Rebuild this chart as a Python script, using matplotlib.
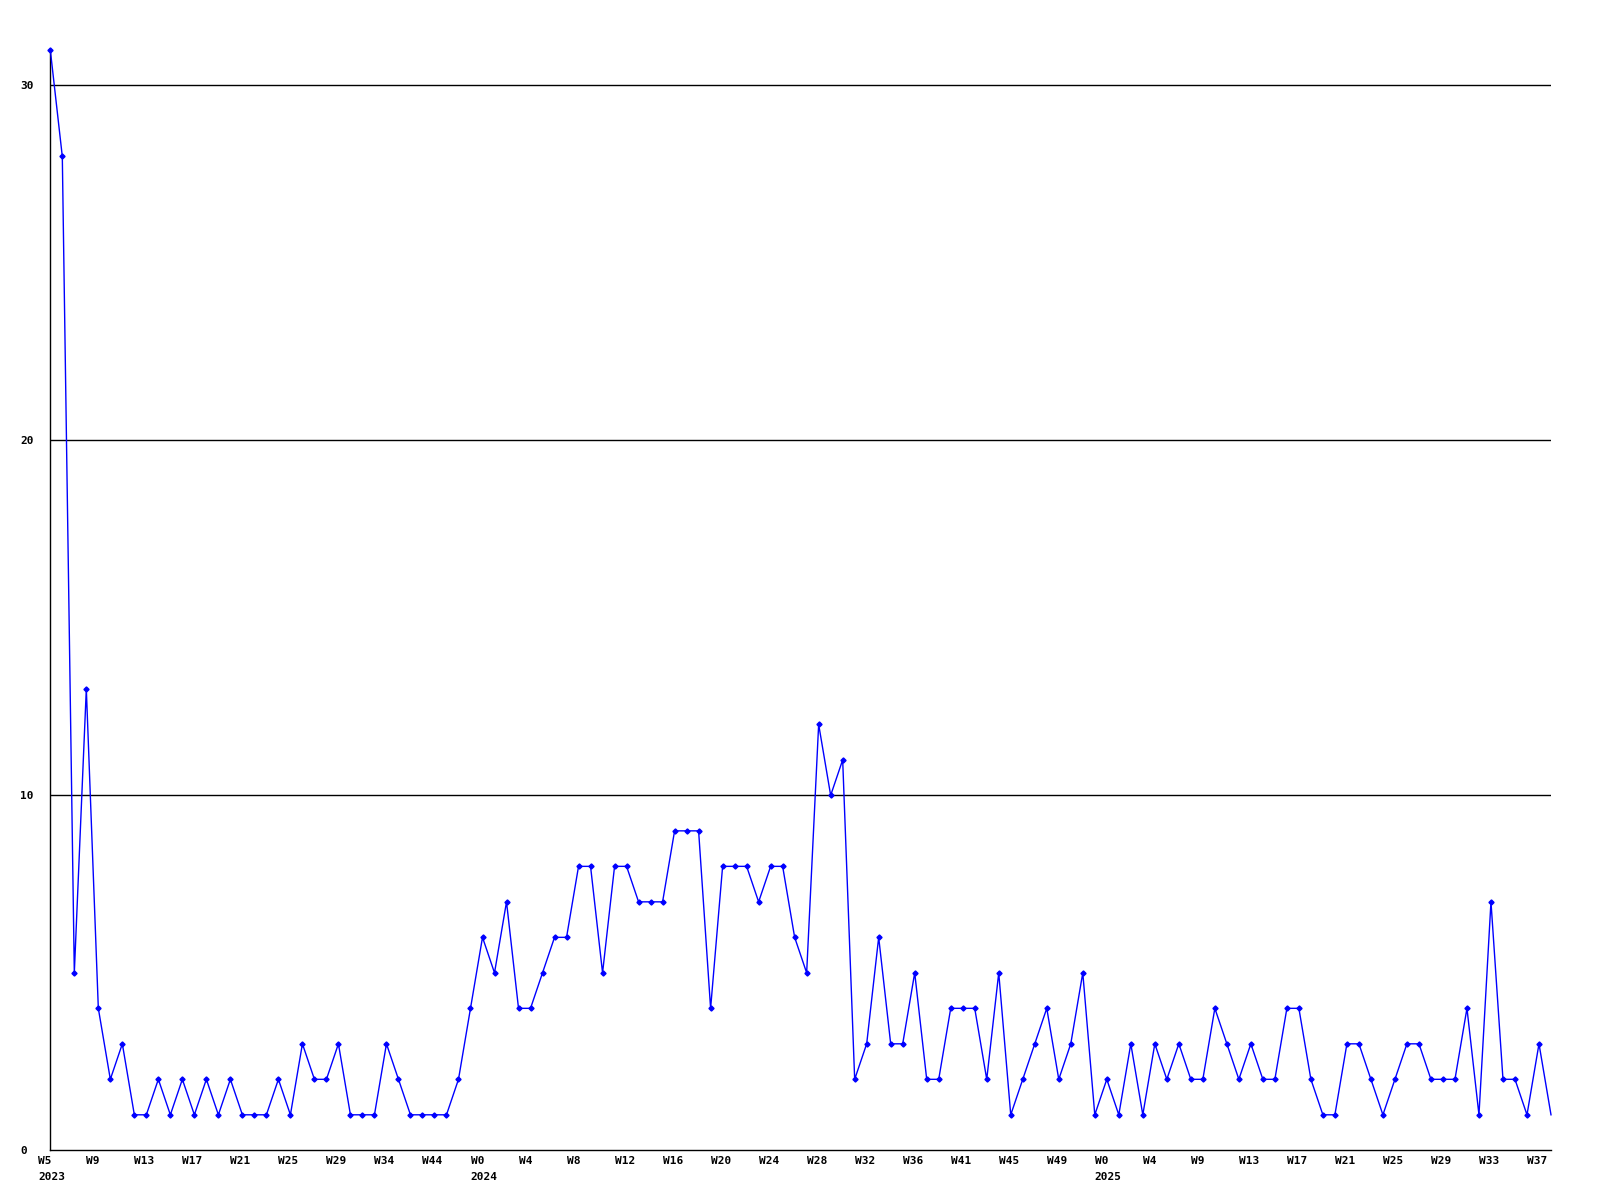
import matplotlib
matplotlib.use("Agg")
import matplotlib.pyplot as plt
from matplotlib.transforms import ScaledTranslation

# weekly counts, 2023 W5 .. 2025 W37
values = [31, 28, 5, 13, 4, 2, 3, 1, 1, 2, 1, 2, 1, 2, 1, 2, 1, 1, 1, 2,
          1, 3, 2, 2, 3, 1, 1, 1, 3, 2, 1, 1, 1, 1, 2, 4, 6, 5, 7, 4,
          4, 5, 6, 6, 8, 8, 5, 8, 8, 7, 7, 7, 9, 9, 9, 4, 8, 8, 8, 7,
          8, 8, 6, 5, 12, 10, 11, 2, 3, 6, 3, 3, 5, 2, 2, 4, 4, 4, 2, 5,
          1, 2, 3, 4, 2, 3, 5, 1, 2, 1, 3, 1, 3, 2, 3, 2, 2, 4, 3, 2,
          3, 2, 2, 4, 4, 2, 1, 1, 3, 3, 2, 1, 2, 3, 3, 2, 2, 2, 4, 1,
          7, 2, 2, 1, 3, 1]

week_labels = ["W5", "W9", "W13", "W17", "W21", "W25", "W29", "W34", "W44",
               "W0", "W4", "W8", "W12", "W16", "W20", "W24", "W28", "W32",
               "W36", "W41", "W45", "W49", "W0", "W4", "W9", "W13", "W17",
               "W21", "W25", "W29", "W33", "W37"]
year_labels = {0: "2023", 9: "2024", 22: "2025"}
y_ticks = [0, 10, 20, 30]

x = list(range(len(values)))

fig = plt.figure(figsize=(16, 12), dpi=100)
ax = fig.add_axes([50.3/1600, 1 - 1150.3/1200, (1551 - 50.3)/1600, (1150.3 - 50)/1200])

for v in y_ticks[1:]:
    ax.axhline(v, color="black", lw=1, zorder=1)

# last point has no marker in the original
ax.plot(x, values, color="#0000ff", lw=1, marker="D", markersize=2.6,
        markevery=x[:-1], zorder=3, clip_on=False)

ax.set_xlim(0, len(values) - 1)
ax.set_ylim(0, max(values))
for s in ["top", "right"]:
    ax.spines[s].set_visible(False)
for s in ["left", "bottom"]:
    ax.spines[s].set_color("black")
    ax.spines[s].set_linewidth(1)

font = dict(family="DejaVu Sans Mono", weight="bold", size=8)

ax.set_yticks(y_ticks)
ax.set_yticklabels([str(v) for v in y_ticks], **font)
ax.tick_params(axis="y", length=0, pad=21.8)
for lab in ax.get_yticklabels():
    lab.set_horizontalalignment("left")

ax.set_xticks([])
tr = ax.get_xaxis_transform()
for i, lab in enumerate(week_labels):
    pos = i * 4
    off1 = tr + ScaledTranslation(-12/100, -11.2/100, fig.dpi_scale_trans)
    ax.text(pos, 0, lab, transform=off1, ha="left", va="center", clip_on=False, **font)
    if i in year_labels:
        off2 = tr + ScaledTranslation(-12/100, -26.2/100, fig.dpi_scale_trans)
        ax.text(pos, 0, year_labels[i], transform=off2, ha="left", va="center",
                clip_on=False, **font)

fig.savefig("out.png", dpi=100, facecolor="white")
